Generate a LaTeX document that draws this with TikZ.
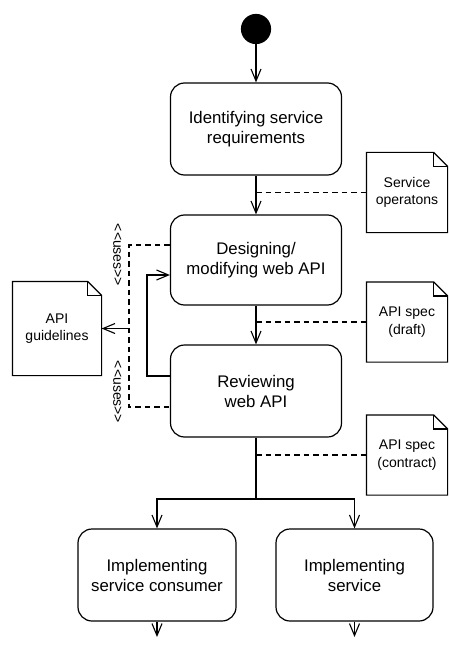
\documentclass[tikz,border=0pt]{standalone}
\usepackage{fontspec}
\setmainfont{Liberation Sans}
\usetikzlibrary{arrows.meta}
\newcommand\mydoc[1]{%
  \draw (#1.south west) -- (#1.north west) -- ([xshift=-14pt]#1.north east)
        -- ([yshift=-14pt]#1.north east) -- (#1.south east) -- cycle;
  \draw ([xshift=-14pt]#1.north east) -- ([xshift=-14pt,yshift=-14pt]#1.north east)
        -- ([yshift=-14pt]#1.north east);}
\begin{document}
\begin{tikzpicture}[x=1pt,y=-1pt,line width=1.2pt,
  act/.style={draw,rounded corners=14pt,minimum width=171pt,minimum height=92pt,
    align=center,inner sep=0pt,font=\fontsize{16.8}{20}\selectfont},
  docbox/.style={minimum width=80pt,minimum height=79pt,align=center,inner sep=0pt,
    font=\fontsize{14}{17.5}\selectfont},
  arr/.style={-{Straight Barb[length=12pt,width=10pt,line width=1.1pt]}},
  dsh/.style={dash pattern=on 5.5pt off 4pt,line width=1.1pt},
  usesl/.style={rotate=-90,inner sep=0pt,font=\fontsize{14}{17}\selectfont},
  dotsn/.style={anchor=north,inner sep=0pt,text height=26pt,text depth=0pt,
    font=\fontsize{16.8}{20}\selectfont}]
\useasboundingbox (0,0) rectangle (448,660);

\node[circle,fill=black,draw=black,minimum size=29pt,inner sep=0pt] (start) at (256,29) {};
\node[act] (b1) at (256,129) {Identifying service\\requirements};
\node[act,minimum height=90pt] (b2) at (256,260) {Designing/\\modifying web API};
\node[act] (b3) at (256,391) {Reviewing\\web API};
\node[act,minimum width=158pt] (b4) at (157,575) {Implementing\\service consumer};
\node[act,minimum width=157pt] (b5) at (354.5,575) {Implementing\\service};
\node[dotsn] (d1) at (157,637) {...};
\node[dotsn] (d2) at (354.5,637) {...};

\node[docbox] (doc1) at (407,192.5) {Service\\operatons};
\node[docbox] (doc2) at (407,322) {API spec\\(draft)};
\node[docbox] (doc3) at (407,455) {API spec\\(contract)};
\node[docbox,minimum width=88pt,minimum height=93pt] (guide) at (57,328.5) {API\\guidelines};
\mydoc{doc1}\mydoc{doc2}\mydoc{doc3}\mydoc{guide}

\node[usesl] (u1) at (117.5,255) {<{}<uses>{}>};
\node[usesl] (u2) at (117.5,392) {<{}<uses>{}>};

\coordinate (j1) at (256,192.5);
\coordinate (j2) at (256,322);
\coordinate (j3) at (256,455);
\coordinate (sp) at (256,499);
\coordinate (ua) at (129,245);
\coordinate (ub) at (129,407);
\coordinate (ug) at (129,328.5);
\coordinate (fa) at (147,376);
\coordinate (fb) at (147,275);

\draw[arr] (start) -- (b1);
\draw[arr] (b1) -- (b2);
\draw[arr] (b2) -- (b3);
\draw (b3) -- (sp);
\draw[arr] (sp) -| (b4);
\draw[arr] (sp) -| (b5);
\draw[arr] (b4) -- (d1);
\draw[arr] (b5) -- (d2);

\draw[dsh] (j1) -- (doc1.west);
\draw[dsh] (j2) -- (doc2.west);
\draw[dsh] (j3) -- (doc3.west);

\draw[dsh] (b2.west |- ua) -- (ua) -- (ub) -- (b3.west |- ub);
\draw[arr] (ug) -- (guide.east);
\draw[arr] (b3.west |- fa) -- (fa) -- (fb) -- (b2.west |- fb);
\end{tikzpicture}
\end{document}
